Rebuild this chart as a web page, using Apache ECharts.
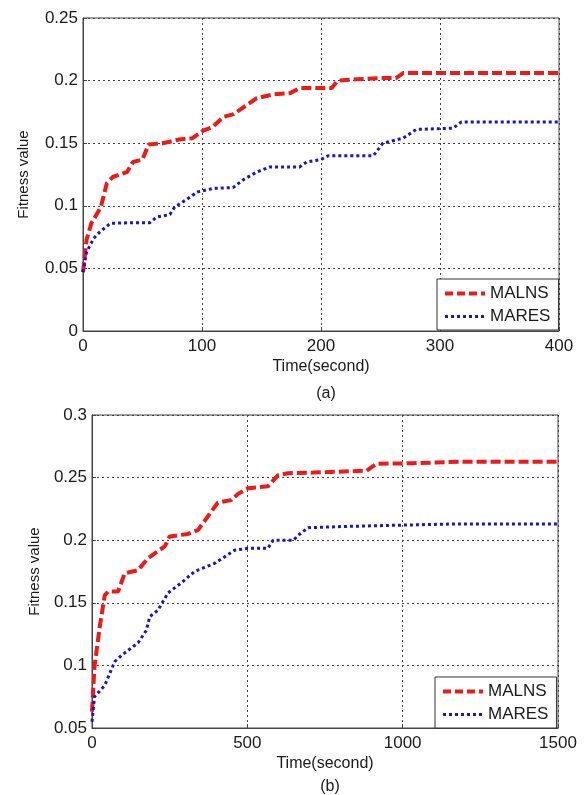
<!DOCTYPE html>
<html>
<head>
<meta charset="utf-8">
<script src="https://cdn.jsdelivr.net/npm/echarts@6/dist/echarts.min.js"></script>
<style>
html,body{margin:0;padding:0;background:#fff;}
#chart{width:587px;height:795px;}
</style>
</head>
<body>
<div id="chart"></div>
<script>
// ---- Data (a) ----
var timeA_MALNS = [0,3,7,15,20,25,37,42,50,55,67,81,92,101,109,118,126,137,146,160,174,182,199,209,214,230,250,263,269,400];
var valA_MALNS  = [0.047,0.073,0.086,0.099,0.118,0.123,0.127,0.135,0.137,0.149,0.150,0.153,0.154,0.160,0.163,0.171,0.173,0.180,0.186,0.189,0.190,0.194,0.194,0.194,0.200,0.201,0.202,0.202,0.206,0.206];
var timeA_MARES = [0,3,9,14,23,40,56,62,73,77,87,96,110,126,135,146,157,182,188,200,206,244,252,269,280,311,318,400];
var valA_MARES  = [0.047,0.063,0.074,0.079,0.086,0.0865,0.0865,0.091,0.093,0.099,0.105,0.111,0.114,0.1145,0.121,0.127,0.131,0.131,0.135,0.137,0.140,0.140,0.150,0.154,0.161,0.162,0.167,0.167];
// ---- Data (b) ----
var timeB_MALNS = [0,8,25,41,52,84,105,148,180,202,234,250,309,341,373,405,448,470,502,566,599,631,712,884,916,1034,1184,1500];
var valB_MALNS  = [0.063,0.099,0.131,0.156,0.159,0.159,0.1735,0.176,0.1855,0.1895,0.195,0.203,0.205,0.208,0.219,0.230,0.232,0.237,0.2415,0.243,0.252,0.2535,0.254,0.2555,0.261,0.2615,0.2627,0.2627];
var timeB_MARES = [0,8,41,73,95,148,175,186,212,245,288,330,395,459,502,566,583,648,669,696,820,991,1174,1500];
var valB_MARES  = [0.055,0.075,0.084,0.103,0.108,0.118,0.128,0.139,0.144,0.158,0.166,0.175,0.1815,0.192,0.1935,0.1935,0.2,0.2,0.205,0.210,0.211,0.212,0.213,0.213];

var seriesNames = ['MALNS','MARES'];
var xAxisName = 'Time(second)';
var yAxisName = 'Fitness value';
var panelLabels = ['(a)','(b)'];

function pairs(t, v){ return t.map(function(x,i){ return [x, v[i]]; }); }

var FONT = '"Liberation Sans", Arial, sans-serif';
var TXT = '#1a1a1a';
var RED = '#ee1a1a';
var BLUE = '#1414d4';

function xAx(idx, max, interval){
  return {
    type:'value', gridIndex: idx, min:0, max:max, interval:interval,
    name: xAxisName, nameLocation:'middle', nameGap: 28,
    nameTextStyle:{fontFamily:FONT, fontSize:16, color:TXT},
    axisLine:{show:true, lineStyle:{color:'#444', width:1}},
    axisTick:{show:true, inside:true, length:4, lineStyle:{color:'#444'}},
    axisLabel:{fontFamily:FONT, fontSize:17, color:TXT, margin:7, formatter:function(v){ return String(v); }},
    splitLine:{show:true, lineStyle:{color:'#444', type:[2,3], width:1}}
  };
}
function yAx(idx, min, max, gap){
  return {
    type:'value', gridIndex: idx, min:min, max:max, interval:0.05,
    name: yAxisName, nameLocation:'middle', nameGap: gap, nameRotate: 90,
    nameTextStyle:{fontFamily:FONT, fontSize:15, color:TXT},
    axisLine:{show:true, lineStyle:{color:'#444', width:1}},
    axisTick:{show:true, inside:true, length:4, lineStyle:{color:'#444'}},
    axisLabel:{fontFamily:FONT, fontSize:17, color:TXT, margin:5, formatter:function(v){ return String(Math.round(v*100)/100); }},
    splitLine:{show:true, lineStyle:{color:'#444', type:[2,3], width:1}}
  };
}
function ser(name, data, xi, color, dash, width){
  return {
    name:name, type:'line', xAxisIndex:xi, yAxisIndex:xi, data:data,
    symbol:'none', showSymbol:false, animation:false,
    lineStyle:{color:color, width:width, type:dash},
    itemStyle:{color:color}
  };
}
function legendAt(left, top){
  return {
    orient:'vertical', left:left, top:top,
    data:[
      {name:seriesNames[0], lineStyle:{width:4, color:RED, type:[8,4]}},
      {name:seriesNames[1], lineStyle:{width:3, color:BLUE, type:[3,3]}}
    ],
    backgroundColor:'#fff', borderColor:'#333', borderWidth:1,
    padding:[6,8,5,6], itemGap:6, itemWidth:40, itemHeight:17,
    itemStyle:{color:'rgba(0,0,0,0)', borderWidth:0, opacity:0},
    textStyle:{fontFamily:FONT, fontSize:17, color:TXT, lineHeight:17, padding:[0,0,0,0]},
    selectedMode:false
  };
}

var chart = echarts.init(document.getElementById('chart'), null, {renderer:'canvas'});
chart.setOption({
  backgroundColor:'#fff',
  animation:false,
  title:[
    {text:panelLabels[0], left:321, top:381, textAlign:'center', textStyle:{fontFamily:FONT, fontSize:16, fontWeight:'normal', color:TXT}},
    {text:panelLabels[1], left:325, top:774, textAlign:'center', textStyle:{fontFamily:FONT, fontSize:16, fontWeight:'normal', color:TXT}}
  ],
  grid:[
    {left:83, top:18, width:476, height:313, show:true, borderColor:'#444', borderWidth:1, backgroundColor:'#fff'},
    {left:92, top:415, width:466, height:313, show:true, borderColor:'#444', borderWidth:1, backgroundColor:'#fff'}
  ],
  xAxis:[ xAx(0, 400, 100), xAx(1, 1500, 500) ],
  yAxis:[ yAx(0, 0, 0.25, 52), yAx(1, 0.05, 0.3, 50) ],
  legend:[ legendAt(437, 279), legendAt(435, 677) ],
  series:[
    ser(seriesNames[0], pairs(timeA_MALNS, valA_MALNS), 0, RED, [10,4], 4),
    ser(seriesNames[1], pairs(timeA_MARES, valA_MARES), 0, BLUE, [3,3], 3),
    ser(seriesNames[0], pairs(timeB_MALNS, valB_MALNS), 1, RED, [10,4], 4),
    ser(seriesNames[1], pairs(timeB_MARES, valB_MARES), 1, BLUE, [3,3], 3)
  ]
});
</script>
</body>
</html>
